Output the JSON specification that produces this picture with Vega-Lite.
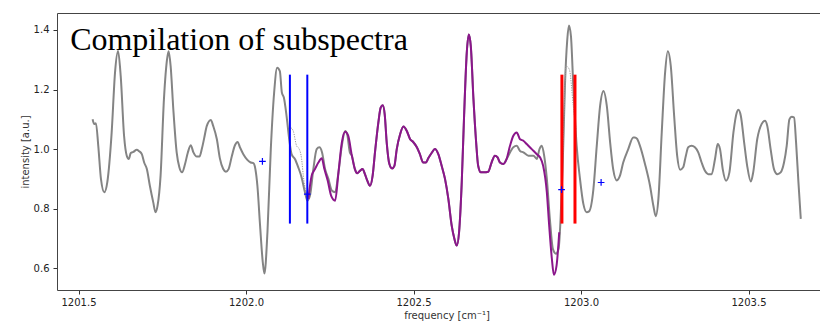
{
  "$schema": "https://vega.github.io/schema/vega-lite/v6.json",
  "width": 763,
  "height": 277,
  "autosize": "none",
  "padding": {"left": 57, "top": 13, "right": 0, "bottom": 33},
  "background": "white",
  "config": {
    "view": {"stroke": null},
    "axis": {
      "grid": false,
      "labelFont": "DejaVu Sans",
      "labelFontSize": 10,
      "labelColor": "#222",
      "titleFont": "DejaVu Sans",
      "titleFontSize": 10,
      "titleFontWeight": "normal",
      "titleColor": "#333",
      "tickColor": "#333",
      "tickSize": 4,
      "domainColor": "#444",
      "domainWidth": 1
    }
  },
  "datasets": {
    "gray": [
      {"f":1201.542,"i":1.100},{"f":1201.547,"i":1.084},{"f":1201.552,"i":1.087},{"f":1201.559,"i":1.011},{"f":1201.567,"i":0.900},{"f":1201.577,"i":0.855},{"f":1201.586,"i":0.889},{"f":1201.599,"i":1.056},{"f":1201.609,"i":1.257},{"f":1201.618,"i":1.329},{"f":1201.626,"i":1.245},{"f":1201.636,"i":1.045},{"f":1201.644,"i":0.978},{"f":1201.650,"i":0.967},{"f":1201.656,"i":0.987},{"f":1201.664,"i":0.991},{"f":1201.674,"i":0.998},{"f":1201.681,"i":0.993},{"f":1201.689,"i":0.983},{"f":1201.696,"i":0.955},{"f":1201.704,"i":0.933},{"f":1201.713,"i":0.877},{"f":1201.723,"i":0.822},{"f":1201.730,"i":0.788},{"f":1201.736,"i":0.810},{"f":1201.745,"i":0.911},{"f":1201.755,"i":1.167},{"f":1201.765,"i":1.307},{"f":1201.769,"i":1.329},{"f":1201.775,"i":1.279},{"f":1201.783,"i":1.134},{"f":1201.793,"i":0.989},{"f":1201.801,"i":0.939},{"f":1201.809,"i":0.922},{"f":1201.818,"i":0.950},{"f":1201.826,"i":0.987},{"f":1201.835,"i":1.013},{"f":1201.843,"i":0.989},{"f":1201.853,"i":0.975},{"f":1201.861,"i":0.975},{"f":1201.868,"i":1.000},{"f":1201.875,"i":1.036},{"f":1201.883,"i":1.078},{"f":1201.895,"i":1.098},{"f":1201.902,"i":1.078},{"f":1201.913,"i":1.033},{"f":1201.922,"i":0.969},{"f":1201.932,"i":0.933},{"f":1201.940,"i":0.924},{"f":1201.948,"i":0.933},{"f":1201.958,"i":0.978},{"f":1201.967,"i":1.013},{"f":1201.975,"i":1.024},{"f":1201.982,"i":1.006},{"f":1201.992,"i":0.983},{"f":1202.004,"i":0.964},{"f":1202.014,"i":0.955},{"f":1202.022,"i":0.953},{"f":1202.028,"i":0.933},{"f":1202.034,"i":0.877},{"f":1202.042,"i":0.743},{"f":1202.050,"i":0.621},{"f":1202.055,"i":0.582},{"f":1202.064,"i":0.721},{"f":1202.074,"i":1.000},{"f":1202.084,"i":1.190},{"f":1202.093,"i":1.273},{"f":1202.101,"i":1.262},{"f":1202.107,"i":1.190},{"f":1202.113,"i":1.173},{"f":1202.121,"i":1.112},{"f":1202.129,"i":1.033},{"f":1202.136,"i":0.983},{"f":1202.146,"i":0.967},{"f":1202.156,"i":0.939},{"f":1202.166,"i":0.905},{"f":1202.176,"i":0.855},{"f":1202.183,"i":0.827},{"f":1202.191,"i":0.844},{"f":1202.201,"i":0.933},{"f":1202.211,"i":1.000},{"f":1202.219,"i":1.006},{"f":1202.227,"i":0.989},{"f":1202.236,"i":0.933},{"f":1202.246,"i":0.900},{"f":1202.256,"i":0.861},{"f":1202.266,"i":0.855},{"f":1202.276,"i":0.922},{"f":1202.286,"i":1.011},{"f":1202.296,"i":1.061},{"f":1202.302,"i":1.050},{"f":1202.310,"i":0.989},
      {"f":1202.316,"i":0.978},{"f":1202.325,"i":0.933},{"f":1202.332,"i":0.919},{"f":1202.340,"i":0.927},{"f":1202.348,"i":0.933},{"f":1202.355,"i":0.916},{"f":1202.362,"i":0.894},{"f":1202.370,"i":0.877},{"f":1202.378,"i":0.911},{"f":1202.385,"i":0.989},{"f":1202.395,"i":1.089},{"f":1202.402,"i":1.139},{"f":1202.408,"i":1.147},{"f":1202.414,"i":1.117},{"f":1202.420,"i":1.022},{"f":1202.428,"i":0.950},{"f":1202.436,"i":0.935},{"f":1202.443,"i":0.944},{"f":1202.450,"i":1.000},{"f":1202.460,"i":1.050},{"f":1202.470,"i":1.076},{"f":1202.480,"i":1.061},{"f":1202.490,"i":1.033},{"f":1202.499,"i":1.024},{"f":1202.510,"i":1.006},{"f":1202.519,"i":0.983},{"f":1202.529,"i":0.955},{"f":1202.537,"i":0.955},{"f":1202.544,"i":0.969},{"f":1202.554,"i":0.987},{"f":1202.564,"i":1.000},{"f":1202.574,"i":0.983},{"f":1202.584,"i":0.944},{"f":1202.594,"i":0.900},{"f":1202.604,"i":0.833},{"f":1202.614,"i":0.743},{"f":1202.622,"i":0.699},{"f":1202.629,"i":0.676},{"f":1202.636,"i":0.721},{"f":1202.644,"i":0.889},{"f":1202.651,"i":1.112},{"f":1202.659,"i":1.324},{"f":1202.665,"i":1.385},{"f":1202.671,"i":1.346},{"f":1202.679,"i":1.167},{"f":1202.687,"i":1.022},{"f":1202.693,"i":0.944},{"f":1202.701,"i":0.922},{"f":1202.710,"i":0.922},{"f":1202.723,"i":0.924},{"f":1202.733,"i":0.955},{"f":1202.743,"i":0.978},{"f":1202.751,"i":0.972},{"f":1202.758,"i":0.955},{"f":1202.768,"i":0.950},{"f":1202.778,"i":0.967},
      {"f":1202.798,"i":1.006},{"f":1202.808,"i":1.011},{"f":1202.818,"i":0.994},{"f":1202.828,"i":0.989},{"f":1202.843,"i":0.978},{"f":1202.858,"i":0.978},{"f":1202.868,"i":0.967},{"f":1202.876,"i":1.000},{"f":1202.883,"i":1.011},{"f":1202.890,"i":0.978},{"f":1202.898,"i":0.900},{"f":1202.907,"i":0.766},{"f":1202.916,"i":0.665},{"f":1202.925,"i":0.649},{"f":1202.933,"i":0.665},{"f":1202.939,"i":0.766},{"f":1202.945,"i":0.933},{"f":1202.952,"i":1.212},{"f":1202.959,"i":1.368},{"f":1202.964,"i":1.415},{"f":1202.970,"i":1.379},{"f":1202.977,"i":1.212},{"f":1202.987,"i":1.011},{"f":1202.997,"i":0.900},{"f":1203.007,"i":0.816},{"f":1203.017,"i":0.788},{"f":1203.024,"i":0.791},{"f":1203.037,"i":0.866},{"f":1203.047,"i":1.011},{"f":1203.057,"i":1.145},{"f":1203.067,"i":1.195},{"f":1203.077,"i":1.145},{"f":1203.087,"i":1.022},{"f":1203.096,"i":0.933},{"f":1203.107,"i":0.895},{"f":1203.116,"i":0.910},{"f":1203.126,"i":0.955},{"f":1203.141,"i":1.000},{"f":1203.156,"i":1.039},{"f":1203.161,"i":1.039},{"f":1203.167,"i":1.035},{"f":1203.176,"i":1.011},{"f":1203.191,"i":0.950},{"f":1203.206,"i":0.877},{"f":1203.216,"i":0.810},{"f":1203.223,"i":0.775},{"f":1203.231,"i":0.833},{"f":1203.241,"i":1.056},{"f":1203.251,"i":1.257},{"f":1203.259,"i":1.329},{"f":1203.268,"i":1.279},{"f":1203.278,"i":1.112},{"f":1203.287,"i":0.978},{"f":1203.296,"i":0.931},{"f":1203.305,"i":0.939},{"f":1203.313,"i":0.978},{"f":1203.320,"i":1.006},{"f":1203.330,"i":1.011},{"f":1203.340,"i":1.006},{"f":1203.350,"i":0.989},{"f":1203.360,"i":0.955},{"f":1203.370,"i":0.927},{"f":1203.380,"i":0.916},{"f":1203.390,"i":0.916},{"f":1203.400,"i":0.967},{"f":1203.408,"i":1.017},{"f":1203.415,"i":1.000},{"f":1203.423,"i":0.933},{"f":1203.433,"i":0.894},{"f":1203.443,"i":0.922},{"f":1203.455,"i":1.056},{"f":1203.465,"i":1.123},{"f":1203.470,"i":1.132},{"f":1203.477,"i":1.112},{"f":1203.487,"i":1.022},{"f":1203.496,"i":0.944},{"f":1203.507,"i":0.891},{"f":1203.514,"i":0.922},{"f":1203.526,"i":1.033},{"f":1203.539,"i":1.084},{"f":1203.549,"i":1.095},{"f":1203.556,"i":1.078},{"f":1203.566,"i":1.000},{"f":1203.576,"i":0.933},{"f":1203.586,"i":0.916},{"f":1203.596,"i":0.922},{"f":1203.606,"i":0.955},{"f":1203.614,"i":1.011},{"f":1203.622,"i":1.100},{"f":1203.629,"i":1.109},{"f":1203.636,"i":1.106},{"f":1203.642,"i":1.022},{"f":1203.649,"i":0.889},{"f":1203.656,"i":0.766}
    ],
    "purple": [
      {"f":1202.186,"i":0.833},{"f":1202.196,"i":0.911},{"f":1202.206,"i":0.933},{"f":1202.216,"i":0.955},{"f":1202.226,"i":0.969},{"f":1202.234,"i":0.933},{"f":1202.244,"i":0.894},{"f":1202.254,"i":0.844},{"f":1202.266,"i":0.827},{"f":1202.276,"i":0.922},{"f":1202.286,"i":1.022},{"f":1202.296,"i":1.058},{"f":1202.305,"i":1.045},{"f":1202.316,"i":0.978},{"f":1202.325,"i":0.933},{"f":1202.332,"i":0.919},{"f":1202.340,"i":0.927},{"f":1202.348,"i":0.933},{"f":1202.355,"i":0.916},{"f":1202.362,"i":0.894},{"f":1202.370,"i":0.877},{"f":1202.378,"i":0.911},{"f":1202.385,"i":0.989},{"f":1202.395,"i":1.089},{"f":1202.402,"i":1.139},{"f":1202.408,"i":1.147},{"f":1202.414,"i":1.117},{"f":1202.420,"i":1.022},{"f":1202.428,"i":0.950},{"f":1202.436,"i":0.935},{"f":1202.443,"i":0.944},{"f":1202.450,"i":1.000},{"f":1202.460,"i":1.050},{"f":1202.470,"i":1.076},{"f":1202.480,"i":1.061},{"f":1202.490,"i":1.033},{"f":1202.499,"i":1.024},{"f":1202.510,"i":1.006},{"f":1202.519,"i":0.983},{"f":1202.529,"i":0.955},{"f":1202.537,"i":0.955},{"f":1202.544,"i":0.969},{"f":1202.554,"i":0.987},{"f":1202.564,"i":1.000},{"f":1202.574,"i":0.983},{"f":1202.584,"i":0.944},{"f":1202.594,"i":0.900},{"f":1202.604,"i":0.833},{"f":1202.614,"i":0.743},{"f":1202.622,"i":0.699},{"f":1202.629,"i":0.676},{"f":1202.636,"i":0.721},{"f":1202.644,"i":0.889},{"f":1202.651,"i":1.112},{"f":1202.659,"i":1.324},{"f":1202.665,"i":1.385},{"f":1202.671,"i":1.346},{"f":1202.679,"i":1.167},{"f":1202.687,"i":1.022},{"f":1202.693,"i":0.944},{"f":1202.701,"i":0.922},{"f":1202.710,"i":0.922},{"f":1202.723,"i":0.924},{"f":1202.733,"i":0.955},{"f":1202.743,"i":0.978},{"f":1202.751,"i":0.972},{"f":1202.758,"i":0.955},{"f":1202.768,"i":0.950},{"f":1202.778,"i":0.967},{"f":1202.788,"i":1.011},{"f":1202.798,"i":1.045},{"f":1202.808,"i":1.056},{"f":1202.818,"i":1.033},{"f":1202.828,"i":1.028},{"f":1202.838,"i":1.017},{"f":1202.853,"i":1.000},{"f":1202.868,"i":0.983},{"f":1202.878,"i":0.972},{"f":1202.887,"i":0.944},{"f":1202.898,"i":0.855},{"f":1202.905,"i":0.743},{"f":1202.913,"i":0.632},{"f":1202.919,"i":0.578},{"f":1202.927,"i":0.609},{"f":1202.935,"i":0.721}
    ],
    "dotted": [
      {"seg":"a","f":1202.134,"i":1.072},{"seg":"a","f":1202.141,"i":1.061},{"seg":"a","f":1202.151,"i":1.011},{"seg":"a","f":1202.159,"i":1.000},{"seg":"a","f":1202.166,"i":0.967},{"seg":"a","f":1202.171,"i":0.911},{"seg":"a","f":1202.179,"i":0.855},{"seg":"a","f":1202.186,"i":0.833},
      {"seg":"b","f":1202.942,"i":0.833},{"seg":"b","f":1202.948,"i":1.050},{"seg":"b","f":1202.955,"i":1.279},{"seg":"b","f":1202.965,"i":1.268},{"seg":"b","f":1202.977,"i":1.145},{"seg":"b","f":1202.985,"i":1.067}
    ],
    "vlines": [
      {"set":"blue","f":1202.131,"lo":0.75,"hi":1.25},
      {"set":"blue","f":1202.183,"lo":0.75,"hi":1.25},
      {"set":"red","f":1202.943,"lo":0.75,"hi":1.25},
      {"set":"red","f":1202.982,"lo":0.75,"hi":1.25}
    ],
    "marks": [
      {"f":1202.049,"i":0.959},
      {"f":1202.183,"i":0.849},
      {"f":1202.942,"i":0.864},
      {"f":1203.060,"i":0.888}
    ],
    "label": [
      {"f":1201.475,"i":1.333,"t":"Compilation of subspectra"}
    ]
  },
  "layer": [
    {
      "data": {"name": "gray"},
      "mark": {"type": "line", "color": "#848484", "strokeWidth": 2, "interpolate": "monotone"},
      "encoding": {
        "x": {"field": "f", "type": "quantitative",
              "scale": {"domain": [1201.4358, 1203.7134], "nice": false, "zero": false},
              "axis": {"orient": "bottom", "values": [1201.5, 1202, 1202.5, 1203, 1203.5], "format": ".1f",
                       "title": "frequency [cm⁻¹]", "labelPadding": 3, "titleX": 389.5, "titleY": 25, "titleBaseline": "middle"}},
        "y": {"field": "i", "type": "quantitative",
              "scale": {"domain": [0.527, 1.457], "nice": false, "zero": false},
              "axis": {"values": [0.6, 0.8, 1.0, 1.2, 1.4], "format": ".1f", "title": "intensity [a.u.]",
                       "labelPadding": 4, "titleX": -32, "titleY": 138.5, "titleBaseline": "middle"}}
      }
    },
    {
      "data": {"name": "purple"},
      "mark": {"type": "line", "color": "#8b168b", "strokeWidth": 2, "interpolate": "monotone"},
      "encoding": {
        "x": {"field": "f", "type": "quantitative",
              "axis": {"orient": "top", "labels": false, "ticks": false, "title": null, "values": []}},
        "y": {"field": "i", "type": "quantitative"}
      }
    },
    {
      "data": {"name": "dotted"},
      "mark": {"type": "line", "color": "#999999", "strokeWidth": 1, "strokeDash": [1.2, 1.2], "interpolate": "monotone"},
      "encoding": {
        "x": {"field": "f", "type": "quantitative", "axis": null},
        "y": {"field": "i", "type": "quantitative"},
        "detail": {"field": "seg"}
      }
    },
    {
      "data": {"name": "vlines"},
      "mark": {"type": "rule"},
      "encoding": {
        "x": {"field": "f", "type": "quantitative", "axis": null},
        "y": {"field": "lo", "type": "quantitative"},
        "y2": {"field": "hi"},
        "color": {"field": "set", "type": "nominal", "scale": {"domain": ["blue", "red"], "range": ["#0000ff", "#ff0000"]}, "legend": null},
        "strokeWidth": {"field": "set", "type": "nominal", "scale": {"domain": ["blue", "red"], "range": [2, 3]}, "legend": null}
      }
    },
    {
      "data": {"name": "marks"},
      "mark": {"type": "point", "shape": "M-1,0L1,0M0,-1L0,1", "filled": false, "stroke": "#0000ff", "strokeWidth": 1.2, "size": 45, "opacity": 1},
      "encoding": {
        "x": {"field": "f", "type": "quantitative", "axis": null},
        "y": {"field": "i", "type": "quantitative"}
      }
    },
    {
      "data": {"name": "label"},
      "mark": {"type": "text", "font": "Liberation Serif", "fontSize": 32, "align": "left", "baseline": "alphabetic", "color": "#000000"},
      "encoding": {
        "x": {"field": "f", "type": "quantitative", "axis": null},
        "y": {"field": "i", "type": "quantitative"},
        "text": {"field": "t"}
      }
    }
  ],
  "resolve": {"axis": {"x": "independent"}}
}
